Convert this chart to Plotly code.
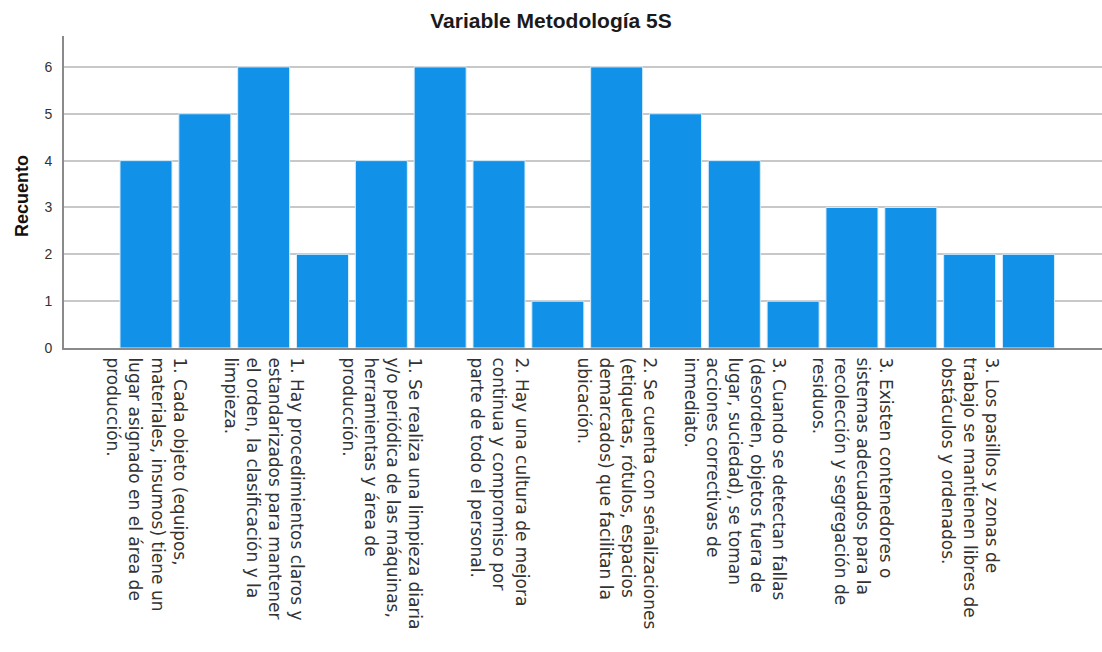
import plotly.graph_objects as go

# Recuento por ítem de la variable Metodología 5S
bar_index = list(range(1, 17))
counts = [4, 5, 6, 2, 4, 6, 4, 1, 6, 5, 4, 1, 3, 3, 2, 2]

# Etiquetas visibles del eje X (una de cada dos barras)
labeled_bars = list(range(1, 17, 2))
tick_labels = [
    "1. Cada objeto (equipos,<br>materiales, insumos) tiene un<br>lugar asignado en el área de<br>producción.",
    "1. Hay procedimientos claros y<br>estandarizados para mantener<br>el orden, la clasificación y la<br>limpieza.",
    "1. Se realiza una limpieza diaria<br>y/o periódica de las máquinas,<br>herramientas y área de<br>producción.",
    "2. Hay una cultura de mejora<br>continua y compromiso por<br>parte de todo el personal.",
    "2. Se cuenta con señalizaciones<br>(etiquetas, rótulos, espacios<br>demarcados) que facilitan la<br>ubicación.",
    "3. Cuando se detectan fallas<br>(desorden, objetos fuera de<br>lugar, suciedad), se toman<br>acciones correctivas de<br>inmediato.",
    "3. Existen contenedores o<br>sistemas adecuados para la<br>recolección y segregación de<br>residuos.",
    "3. Los pasillos y zonas de<br>trabajo se mantienen libres de<br>obstáculos y ordenados.",
]

BAR_COLOR = "#1192E8"

fig = go.Figure(
    go.Bar(
        x=bar_index,
        y=counts,
        marker=dict(color=BAR_COLOR, line=dict(color="#d6ecfb", width=1)),
        hoverinfo="x+y",
    )
)

fig.update_layout(
    width=1102,
    height=652,
    margin=dict(l=64, r=0, t=36, b=304),
    paper_bgcolor="white",
    plot_bgcolor="white",
    bargap=0.116,
    showlegend=False,
    title=dict(
        text="<b>Variable Metodología 5S</b>",
        x=0.5,
        xanchor="center",
        xref="container",
        y=1 - 21 / 652,
        yref="container",
        yanchor="middle",
        font=dict(family="Liberation Sans, Arial, sans-serif", size=21, color="#1a1a1a"),
    ),
    annotations=[
        dict(
            text="<b>Recuento</b>",
            xref="paper",
            yref="paper",
            x=0,
            y=(348 - 196) / 312,
            xanchor="center",
            yanchor="middle",
            xshift=-42,
            textangle=-90,
            showarrow=False,
            font=dict(family="Liberation Sans, Arial, sans-serif", size=18, color="#111111"),
        )
    ],
)

fig.update_xaxes(
    range=[-0.394, 17.25],
    tickmode="array",
    tickvals=labeled_bars,
    ticktext=tick_labels,
    tickangle=90,
    tickfont=dict(family="DejaVu Sans, sans-serif", size=17, color="#333333"),
    ticks="",
    ticklabelstandoff=4,
    showgrid=False,
    zeroline=False,
    showline=True,
    linecolor="#8a8a8a",
    linewidth=2,
)

fig.update_yaxes(
    range=[0, 6.66],
    tickmode="array",
    tickvals=[0, 1, 2, 3, 4, 5, 6],
    tickfont=dict(family="Liberation Sans, Arial, sans-serif", size=14, color="#333333"),
    ticks="",
    ticklabelstandoff=7,
    showgrid=True,
    gridcolor="#c8c8c8",
    gridwidth=1.5,
    zeroline=False,
    showline=True,
    linecolor="#8a8a8a",
    linewidth=2,
)

fig.write_html("out.html")
